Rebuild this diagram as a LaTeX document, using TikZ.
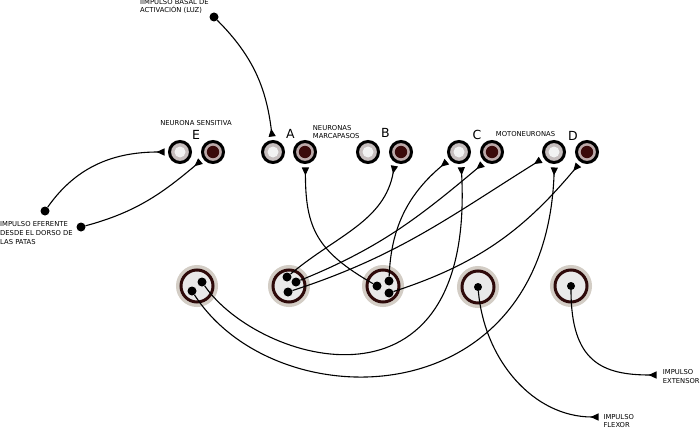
\documentclass[tikz,border=0pt]{standalone}
\usepackage{fontspec}
\setmainfont{DejaVu Sans}
\usetikzlibrary{arrows.meta,
                positioning
            }
\definecolor{lightcore}{HTML}{F2F2F2}
\definecolor{lightring}{HTML}{C6BEBE}
\definecolor{darkcore}{HTML}{3A0A0A}
\definecolor{darkring}{HTML}{BCAAAA}
\definecolor{cellhalo}{HTML}{D3CDC5}
\definecolor{cellring}{HTML}{2E0A0A}
\definecolor{cellfill}{HTML}{E9E9E9}

\begin{document}
\begin{tikzpicture}[x=1pt, y=1pt,
        lightcell/.style={circle, draw=black, line width=3pt, fill=lightring, minimum size=21pt, inner sep=0pt,
            path picture={\fill[lightcore] (path picture bounding box.center) circle (5.5pt);}},
        darkcell/.style={circle, draw=black, line width=3pt, fill=darkring, minimum size=21pt, inner sep=0pt,
            path picture={\fill[darkcore] (path picture bounding box.center) circle (6.2pt);}},
        motorcell/.style={circle, draw=cellring, line width=3pt, fill=cellfill, minimum size=32pt, inner sep=0pt,
            preaction={draw=cellhalo, line width=10pt}},
        dot/.style={circle, fill=black, minimum size=9pt, inner sep=0pt},
        syn/.style={line width=1.1pt, -{Triangle[reversed, length=8pt, width=7pt]}, shorten >=3.5pt},
        lbl/.style={font=\fontsize{6.8}{8.7}\selectfont, inner sep=0pt, align=left},
        letter/.style={font=\fontsize{12.5}{14}\selectfont, inner sep=0pt}
    ]
            \useasboundingbox (0,0) rectangle (700,429);

            \node[lightcell] (El) at (180,277) {};
            \node[darkcell] (Ed) at (213,277) {};
            \node[lightcell] (Al) at (273,277) {};
            \node[darkcell] (Ad) at (305,277) {};
            \node[lightcell] (Bl) at (368,277) {};
            \node[darkcell] (Bd) at (401,277) {};
            \node[lightcell] (Cl) at (459,277) {};
            \node[darkcell] (Cd) at (492,277) {};
            \node[lightcell] (Dl) at (554,277) {};
            \node[darkcell] (Dd) at (587,277) {};

            \node[letter, anchor=base] (labE) at (196,290) {E};
            \node[letter, anchor=base] (labA) at (290.3,290.3) {A};
            \node[letter, anchor=base] (labB) at (385.5,291) {B};
            \node[letter, anchor=base] (labC) at (477,290) {C};
            \node[letter, anchor=base] (labD) at (573,288.3) {D};

            \node[lbl, anchor=base] (sensitiva) at (196,303.5) {NEURONA SENSITIVA};
            \node[lbl, anchor=north west] (marcapasos) at (312.7,304) {NEURONAS\\MARCAPASOS};
            \node[lbl, anchor=base] (moto) at (525.5,292.3) {MOTONEURONAS};
            \node[lbl, anchor=north west] (basallbl) at (140,430) {IIMPULSO BASAL DE\\ACTIVACIÓN (LUZ)};
            \node[lbl, anchor=north west] (eferlbl) at (0,207.5) {IMPULSO EFERENTE\\DESDE EL DORSO DE\\LAS PATAS};
            \node[lbl, anchor=north west] (extlbl) at (662.7,59.7) {IMPULSO\\EXTENSOR};
            \node[lbl, anchor=north west] (flxlbl) at (603.3,15) {IMPULSO\\FLEXOR};

            \node[motorcell] (N1) at (197,143) {};
            \node[motorcell] (N2) at (289,143) {};
            \node[motorcell] (N3) at (383,143) {};
            \node[motorcell] (N4) at (478,142) {};
            \node[motorcell] (N5) at (571,143) {};

            \node[dot] (n1a) at (202,147) {};
            \node[dot] (n1b) at (192,138) {};
            \node[dot] (n2a) at (287,152) {};
            \node[dot] (n2b) at (296,147) {};
            \node[dot] (n2c) at (288,137) {};
            \node[dot] (n3a) at (377,143) {};
            \node[dot] (n3b) at (389,148) {};
            \node[dot] (n3c) at (389,136) {};
            \node[dot, minimum size=8pt] (n4a) at (N4) {};
            \node[dot, minimum size=8pt] (n5a) at (N5) {};

            \node[dot] (basal) at (214,412) {};
            \node[dot] (ef1) at (45,218) {};
            \node[dot] (ef2) at (81,202) {};
            \coordinate (flx) at (602,12);
            \coordinate (ext) at (660,54);

            \draw[syn] (basal) to[out=-45, in=97] (Al.92);
            \draw[syn] (ef1) to[out=55, in=180] (El.west);
            \draw[syn] (ef2) to[out=15, in=-140] (Ed.-145);
            \draw[syn] (n3a) to[out=150, in=-90, looseness=1.2] (Ad.-88);
            \draw[syn] (n2a) to[out=40, in=-100] (Bd.-120);
            \draw[syn] (n3b) to[out=88, in=-140] (Cl.-142);
            \draw[syn] (n1a) .. controls +(57,-82) and +(14,-263) .. (Cl.-80);
            \draw[syn] (n1b) .. controls +(83,-129) and +(-9,-255) .. (Dl.-88);
            \draw[syn] (n2b) to[out=22, in=-140] (Cd.-125);
            \draw[syn] (n2c) to[out=18, in=-148] (Dl.-150);
            \draw[syn] (n3c) to[out=18, in=-130] (Dd.-122);
            \draw[syn] (n4a) to[out=-85, in=180] (flx);
            \draw[syn] (n5a) to[out=-90, in=180, out looseness=1.5, in looseness=1.2] (ext);
        \end{tikzpicture}
\end{document}
